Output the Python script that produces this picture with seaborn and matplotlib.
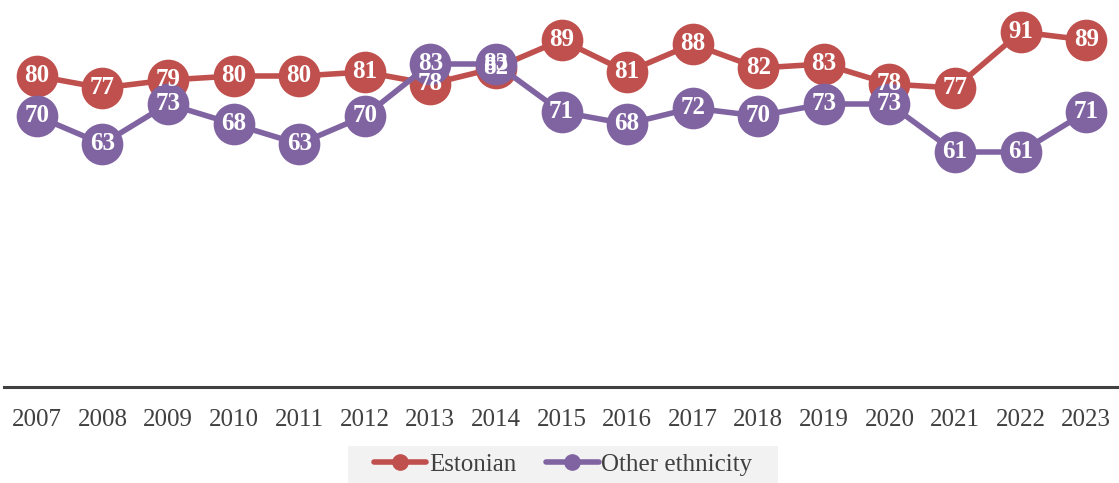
import numpy as np
import pandas as pd
import seaborn as sns
import matplotlib.pyplot as plt
from matplotlib.lines import Line2D
from matplotlib.patches import Rectangle

# ── Data ──────────────────────────────────────────────────────────────────────
years = ["2007", "2008", "2009", "2010", "2011", "2012", "2013", "2014", "2015",
         "2016", "2017", "2018", "2019", "2020", "2021", "2022", "2023"]
estonian = [80, 77, 79, 80, 80, 81, 78, 82, 89, 81, 88, 82, 83, 78, 77, 91, 89]
other = [70, 63, 73, 68, 63, 70, 83, 83, 71, 68, 72, 70, 73, 73, 61, 61, 71]
series = ["Estonian", "Other ethnicity"]
colors = {"Estonian": "#C0504D", "Other ethnicity": "#8064A2"}

df = pd.DataFrame({
    "pos": list(range(len(years))) * 2,
    "value": estonian + other,
    "group": [series[0]] * len(years) + [series[1]] * len(years),
})

# ── Plot ──────────────────────────────────────────────────────────────────────
sns.set_theme(style="white")
plt.rcParams["font.family"] = ["Liberation Serif", "DejaVu Serif"]

W, H = 1119, 483
fig = plt.figure(figsize=(W / 100, H / 100), dpi=100)
ax = fig.add_axes([4 / W, 96 / H, 1 - 4 / W, 387 / H])

sns.lineplot(data=df, x="pos", y="value", hue="group", palette=colors,
             marker="o", markersize=30, markeredgewidth=0, linewidth=4,
             legend=False, ax=ax)

for name, vals in zip(series, [estonian, other]):
    for i, v in enumerate(vals):
        ax.text(i, v, str(v), ha="center", va="center", color="white",
                fontsize=18, fontweight="bold", zorder=5)

ax.set_xlim(-0.5, len(years) - 0.5)
ax.set_ylim(2.25, 99)
ax.set_xticks(range(len(years)))
ax.set_xticklabels(years, fontsize=18, color="#404040")
ax.tick_params(axis="x", length=0, pad=16)
ax.set_yticks([])
ax.set_xlabel("")
ax.set_ylabel("")
for s in ["top", "left", "right"]:
    ax.spines[s].set_visible(False)
ax.spines["bottom"].set_color("#404040")
ax.spines["bottom"].set_linewidth(2.2)

# legend background box
fig.patches.append(Rectangle((348 / W, 0), 430 / W, 37 / H, transform=fig.transFigure,
                             facecolor="#F2F2F2", edgecolor="none", zorder=0))

handles = [Line2D([0], [0], color=colors[s], lw=4, marker="o", markersize=11)
           for s in series]
leg = fig.legend(handles, series, loc="center", bbox_to_anchor=(563 / W, 18.5 / H),
                 ncol=2, frameon=False, fontsize=18, handlelength=2.1,
                 handletextpad=0.1, columnspacing=1.2, borderpad=0.0,
                 borderaxespad=0)
for t in leg.get_texts():
    t.set_color("#404040")

fig.savefig("out.png", dpi=100)
